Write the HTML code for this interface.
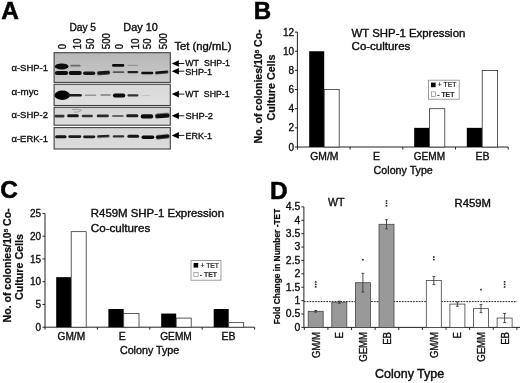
<!DOCTYPE html>
<html lang="en"><head><meta charset="utf-8"><title>Figure</title>
<style>html,body{margin:0;padding:0;background:#fff;}svg{display:block;}</style></head><body>
<svg width="520" height="383" viewBox="0 0 520 383" font-family='"Liberation Sans", Arial, sans-serif'>
<defs>
<filter id="b1" x="-20%" y="-50%" width="140%" height="200%"><feGaussianBlur stdDeviation="0.7"/></filter>
<filter id="b2" x="-20%" y="-50%" width="140%" height="200%"><feGaussianBlur stdDeviation="0.5"/></filter>
<filter id="tb"><feGaussianBlur stdDeviation="0.35"/></filter>
<linearGradient id="g1" x1="0" y1="0" x2="0" y2="1"><stop offset="0" stop-color="#b8b8b8"/><stop offset="0.6" stop-color="#c2c2c2"/><stop offset="1" stop-color="#cccccc"/></linearGradient>
<linearGradient id="g2" x1="0" y1="0" x2="0" y2="1"><stop offset="0" stop-color="#d8d8d8"/><stop offset="1" stop-color="#e0e0e0"/></linearGradient>
<linearGradient id="g3" x1="0" y1="0" x2="0" y2="1"><stop offset="0" stop-color="#d4d4d4"/><stop offset="1" stop-color="#dedede"/></linearGradient>
<linearGradient id="g4" x1="0" y1="0" x2="0" y2="1"><stop offset="0" stop-color="#d6d6d6"/><stop offset="1" stop-color="#dcdcdc"/></linearGradient>
</defs>
<rect width="520" height="383" fill="#fff"/>
<g filter="url(#tb)">
<text transform="translate(1.2 18.8)" font-size="24.4" text-anchor="start" font-weight="bold" fill="#000" stroke="#000" stroke-width="0.54">A</text>
<text transform="translate(253.8 19)" font-size="24.1" text-anchor="start" font-weight="bold" fill="#000" stroke="#000" stroke-width="0.53">B</text>
<text transform="translate(0.3 198.1)" font-size="24.4" text-anchor="start" font-weight="bold" fill="#000" stroke="#000" stroke-width="0.54">C</text>
<text transform="translate(269.9 198.8)" font-size="24.4" text-anchor="start" font-weight="bold" fill="#000" stroke="#000" stroke-width="0.54">D</text>
<text transform="translate(69.5 30.5)" font-size="10.8" text-anchor="start" font-weight="normal" fill="#0a0a0a" textLength="26.5" lengthAdjust="spacingAndGlyphs" stroke="#0a0a0a" stroke-width="0.35">Day 5</text>
<text transform="translate(123.3 30.5)" font-size="10.8" text-anchor="start" font-weight="normal" fill="#0a0a0a" textLength="34.6" lengthAdjust="spacingAndGlyphs" stroke="#0a0a0a" stroke-width="0.35">Day 10</text>
<text transform="translate(66.4 49.2) scale(1.15 1) rotate(-90)" font-size="9.6" text-anchor="start" font-weight="normal" fill="#0a0a0a" stroke="#0a0a0a" stroke-width="0.31">0</text>
<text transform="translate(81.3 49.2) scale(1.15 1) rotate(-90)" font-size="9.6" text-anchor="start" font-weight="normal" fill="#0a0a0a" stroke="#0a0a0a" stroke-width="0.31">10</text>
<text transform="translate(94.2 49.2) scale(1.15 1) rotate(-90)" font-size="9.6" text-anchor="start" font-weight="normal" fill="#0a0a0a" stroke="#0a0a0a" stroke-width="0.31">50</text>
<text transform="translate(109.8 49.2) scale(1.15 1) rotate(-90)" font-size="9.6" text-anchor="start" font-weight="normal" fill="#0a0a0a" stroke="#0a0a0a" stroke-width="0.31">500</text>
<text transform="translate(122.6 49.2) scale(1.15 1) rotate(-90)" font-size="9.6" text-anchor="start" font-weight="normal" fill="#0a0a0a" stroke="#0a0a0a" stroke-width="0.31">0</text>
<text transform="translate(138.9 49.2) scale(1.15 1) rotate(-90)" font-size="9.6" text-anchor="start" font-weight="normal" fill="#0a0a0a" stroke="#0a0a0a" stroke-width="0.31">10</text>
<text transform="translate(151.0 49.2) scale(1.15 1) rotate(-90)" font-size="9.6" text-anchor="start" font-weight="normal" fill="#0a0a0a" stroke="#0a0a0a" stroke-width="0.31">50</text>
<text transform="translate(166.7 49.2) scale(1.15 1) rotate(-90)" font-size="9.6" text-anchor="start" font-weight="normal" fill="#0a0a0a" stroke="#0a0a0a" stroke-width="0.31">500</text>
<text transform="translate(174.4 50)" font-size="11" text-anchor="start" font-weight="normal" fill="#0a0a0a" textLength="57" lengthAdjust="spacingAndGlyphs" stroke="#0a0a0a" stroke-width="0.35">Tet (ng/mL)</text>
<rect x="54.1" y="52.7" width="116.20000000000002" height="29.700000000000003" fill="url(#g1)"/>
<rect x="54.1" y="84.3" width="116.20000000000002" height="21.200000000000003" fill="url(#g2)"/>
<rect x="54.1" y="107.3" width="116.20000000000002" height="17.900000000000006" fill="url(#g3)"/>
<rect x="54.1" y="127.6" width="116.20000000000002" height="21.400000000000006" fill="url(#g4)"/>
<ellipse cx="61.7" cy="66.4" rx="6.8" ry="3.0" fill="#0a0a0a" opacity="1.0" filter="url(#b1)"/>
<rect x="70.2" y="64.80" width="10.4" height="1.8" rx="0.90" fill="#555" opacity="0.8" filter="url(#b2)"/>
<rect x="112.0" y="64.10" width="12.3" height="2.6" rx="1.30" fill="#111" opacity="1" filter="url(#b2)"/>
<rect x="127.4" y="64.70" width="10.4" height="1.4" rx="0.70" fill="#777" opacity="0.6" filter="url(#b2)"/>
<rect x="54.9" y="70.90" width="13.2" height="4.2" rx="2.10" fill="#111" opacity="1.0" filter="url(#b1)"/>
<rect x="68.7" y="71.00" width="13.1" height="4.0" rx="2.00" fill="#111" opacity="1.0" filter="url(#b1)"/>
<rect x="83.1" y="71.40" width="12.2" height="3.6" rx="1.80" fill="#151515" opacity="1.0" filter="url(#b1)"/>
<rect x="97.0" y="71.10" width="13.1" height="3.6" rx="1.80" fill="#151515" opacity="1.0" filter="url(#b1)" transform="rotate(-4 103.5 72.9)"/>
<rect x="112.7" y="71.30" width="11.6" height="1.8" rx="0.90" fill="#444" opacity="0.85" filter="url(#b2)"/>
<rect x="127.4" y="71.00" width="10.9" height="2.2" rx="1.10" fill="#222" opacity="1" filter="url(#b2)"/>
<rect x="141.2" y="71.80" width="12.1" height="2.4" rx="1.20" fill="#111" opacity="1" filter="url(#b2)"/>
<rect x="155.1" y="71.10" width="13.2" height="2.6" rx="1.30" fill="#111" opacity="1" filter="url(#b2)" transform="rotate(-5 161.7 72.4)"/>
<ellipse cx="62.3" cy="95.2" rx="7.8" ry="4.7" fill="#050505" opacity="1.0" filter="url(#b1)"/>
<rect x="67.7" y="94.00" width="14.1" height="2.6" rx="1.30" fill="#1a1a1a" opacity="1.0" filter="url(#b1)"/>
<rect x="84.7" y="94.50" width="11.6" height="1.4" rx="0.70" fill="#666" opacity="0.6" filter="url(#b2)"/>
<rect x="100.3" y="94.25" width="10.5" height="1.5" rx="0.75" fill="#555" opacity="0.7" filter="url(#b2)"/>
<rect x="112.9" y="93.60" width="12.4" height="3.8" rx="1.90" fill="#0a0a0a" opacity="1.0" filter="url(#b1)"/>
<rect x="127.4" y="94.20" width="11.1" height="2.2" rx="1.10" fill="#333" opacity="1" filter="url(#b2)"/>
<rect x="141.7" y="94.90" width="8.6" height="1.2" rx="0.60" fill="#999" opacity="0.35" filter="url(#b2)"/>
<rect x="54.5" y="114.80" width="10.1" height="2.6" rx="1.30" fill="#333" opacity="1" filter="url(#b2)"/>
<rect x="67.1" y="114.30" width="11.7" height="3.0" rx="1.50" fill="#181818" opacity="1" filter="url(#b2)"/>
<rect x="81.7" y="114.70" width="11.2" height="2.6" rx="1.30" fill="#333" opacity="1" filter="url(#b2)"/>
<rect x="96.7" y="114.50" width="12.2" height="2.8" rx="1.40" fill="#2a2a2a" opacity="1" filter="url(#b2)"/>
<rect x="112.0" y="115.00" width="11.7" height="2.0" rx="1.00" fill="#555" opacity="0.85" filter="url(#b2)"/>
<rect x="126.2" y="114.30" width="12.1" height="3.0" rx="1.50" fill="#1a1a1a" opacity="1" filter="url(#b2)"/>
<rect x="140.7" y="114.30" width="12.6" height="4.2" rx="2.10" fill="#0d0d0d" opacity="1.0" filter="url(#b1)"/>
<rect x="155.1" y="113.50" width="14.5" height="4.6" rx="2.20" fill="#0d0d0d" opacity="1.0" filter="url(#b1)" transform="rotate(-4 162.4 115.8)"/>
<path d="M72 109.6 Q77 108.6 81.5 110.2 Q79 112.6 74 112.2" fill="none" stroke="#777" stroke-width="0.9" opacity="0.7" filter="url(#b2)"/>
<rect x="55.1" y="135.30" width="11.4" height="3.0" rx="1.50" fill="#151515" opacity="1" filter="url(#b2)"/>
<rect x="68.3" y="135.20" width="13.0" height="2.8" rx="1.40" fill="#1a1a1a" opacity="1" filter="url(#b2)"/>
<rect x="83.1" y="135.40" width="12.2" height="2.8" rx="1.40" fill="#1a1a1a" opacity="1" filter="url(#b2)"/>
<rect x="97.2" y="135.10" width="12.3" height="2.4" rx="1.20" fill="#222" opacity="1" filter="url(#b2)" transform="rotate(-3 103.3 136.3)"/>
<rect x="112.7" y="135.30" width="11.6" height="2.2" rx="1.10" fill="#333" opacity="1" filter="url(#b2)"/>
<rect x="127.4" y="134.70" width="11.7" height="3.0" rx="1.50" fill="#151515" opacity="1" filter="url(#b2)"/>
<rect x="141.5" y="135.50" width="12.8" height="3.6" rx="1.80" fill="#0d0d0d" opacity="1.0" filter="url(#b1)"/>
<rect x="155.7" y="134.80" width="13.9" height="4.0" rx="2.00" fill="#0d0d0d" opacity="1.0" filter="url(#b1)" transform="rotate(-6 162.7 136.8)"/>
<rect x="54.1" y="52.7" width="116.20000000000002" height="29.700000000000003" fill="none" stroke="#404040" stroke-width="1.1"/>
<rect x="54.1" y="84.3" width="116.20000000000002" height="21.200000000000003" fill="none" stroke="#404040" stroke-width="1.1"/>
<rect x="54.1" y="107.3" width="116.20000000000002" height="17.900000000000006" fill="none" stroke="#404040" stroke-width="1.1"/>
<rect x="54.1" y="127.6" width="116.20000000000002" height="21.400000000000006" fill="none" stroke="#404040" stroke-width="1.1"/>
<text transform="translate(11.5 71.4)" font-size="9.6" text-anchor="start" font-weight="normal" fill="#0a0a0a" textLength="36.5" lengthAdjust="spacingAndGlyphs" stroke="#0a0a0a" stroke-width="0.31">α-SHP-1</text>
<text transform="translate(11.5 95.2)" font-size="9.6" text-anchor="start" font-weight="normal" fill="#0a0a0a" textLength="27" lengthAdjust="spacingAndGlyphs" stroke="#0a0a0a" stroke-width="0.31">α-myc</text>
<text transform="translate(11.5 118.0)" font-size="9.6" text-anchor="start" font-weight="normal" fill="#0a0a0a" textLength="36.5" lengthAdjust="spacingAndGlyphs" stroke="#0a0a0a" stroke-width="0.31">α-SHP-2</text>
<text transform="translate(11.5 141.8)" font-size="9.6" text-anchor="start" font-weight="normal" fill="#0a0a0a" textLength="36.5" lengthAdjust="spacingAndGlyphs" stroke="#0a0a0a" stroke-width="0.31">α-ERK-1</text>
<path d="M171.7 63.5 L178.9 60.2 L178.9 66.8 Z" fill="#000"/><path d="M178 63.5 H184.3" stroke="#000" stroke-width="0.9"/>
<text transform="translate(185.3 66.2)" font-size="9.6" text-anchor="start" font-weight="normal" fill="#0a0a0a" textLength="44.7" lengthAdjust="spacingAndGlyphs" word-spacing="3" stroke="#0a0a0a" stroke-width="0.31">WT SHP-1</text>
<path d="M171.7 71.2 L178.9 67.9 L178.9 74.5 Z" fill="#000"/><path d="M178 71.2 H184.3" stroke="#000" stroke-width="0.9"/>
<text transform="translate(185.3 75.4)" font-size="9.6" text-anchor="start" font-weight="normal" fill="#0a0a0a" textLength="26.7" lengthAdjust="spacingAndGlyphs" stroke="#0a0a0a" stroke-width="0.31">SHP-1</text>
<path d="M171.7 94.1 L178.9 90.8 L178.9 97.39999999999999 Z" fill="#000"/><path d="M178 94.1 H184.3" stroke="#000" stroke-width="0.9"/>
<text transform="translate(185.3 97.3)" font-size="9.6" text-anchor="start" font-weight="normal" fill="#0a0a0a" textLength="44.3" lengthAdjust="spacingAndGlyphs" word-spacing="3" stroke="#0a0a0a" stroke-width="0.31">WT SHP-1</text>
<path d="M171.7 115.8 L178.9 112.5 L178.9 119.1 Z" fill="#000"/><path d="M178 115.8 H184.3" stroke="#000" stroke-width="0.9"/>
<text transform="translate(185.5 119.1)" font-size="9.6" text-anchor="start" font-weight="normal" fill="#0a0a0a" textLength="27.5" lengthAdjust="spacingAndGlyphs" stroke="#0a0a0a" stroke-width="0.31">SHP-2</text>
<path d="M171.7 135.4 L178.9 132.1 L178.9 138.70000000000002 Z" fill="#000"/><path d="M178 135.4 H184.3" stroke="#000" stroke-width="0.9"/>
<text transform="translate(185.5 138.7)" font-size="9.6" text-anchor="start" font-weight="normal" fill="#0a0a0a" textLength="26.5" lengthAdjust="spacingAndGlyphs" stroke="#0a0a0a" stroke-width="0.31">ERK-1</text>
<path d="M297.4 32.10000000000001 V147.0 H508.2" fill="none" stroke="#222" stroke-width="1"/>
<path d="M294.9 147.00 H297.4" stroke="#222" stroke-width="1"/>
<text transform="translate(294.09999999999997 150.6)" font-size="10" text-anchor="end" font-weight="normal" fill="#0a0a0a" stroke="#0a0a0a" stroke-width="0.32">0</text>
<path d="M294.9 127.85 H297.4" stroke="#222" stroke-width="1"/>
<text transform="translate(294.09999999999997 131.45)" font-size="10" text-anchor="end" font-weight="normal" fill="#0a0a0a" stroke="#0a0a0a" stroke-width="0.32">2</text>
<path d="M294.9 108.70 H297.4" stroke="#222" stroke-width="1"/>
<text transform="translate(294.09999999999997 112.3)" font-size="10" text-anchor="end" font-weight="normal" fill="#0a0a0a" stroke="#0a0a0a" stroke-width="0.32">4</text>
<path d="M294.9 89.55 H297.4" stroke="#222" stroke-width="1"/>
<text transform="translate(294.09999999999997 93.15)" font-size="10" text-anchor="end" font-weight="normal" fill="#0a0a0a" stroke="#0a0a0a" stroke-width="0.32">6</text>
<path d="M294.9 70.40 H297.4" stroke="#222" stroke-width="1"/>
<text transform="translate(294.09999999999997 74.0)" font-size="10" text-anchor="end" font-weight="normal" fill="#0a0a0a" stroke="#0a0a0a" stroke-width="0.32">8</text>
<path d="M294.9 51.25 H297.4" stroke="#222" stroke-width="1"/>
<text transform="translate(294.09999999999997 54.85)" font-size="10" text-anchor="end" font-weight="normal" fill="#0a0a0a" stroke="#0a0a0a" stroke-width="0.32">10</text>
<path d="M294.9 32.10 H297.4" stroke="#222" stroke-width="1"/>
<text transform="translate(294.09999999999997 35.70000000000001)" font-size="10" text-anchor="end" font-weight="normal" fill="#0a0a0a" stroke="#0a0a0a" stroke-width="0.32">12</text>
<path d="M297.40 147.0 V149.5" stroke="#222" stroke-width="1"/>
<path d="M350.10 147.0 V149.5" stroke="#222" stroke-width="1"/>
<path d="M402.80 147.0 V149.5" stroke="#222" stroke-width="1"/>
<path d="M455.50 147.0 V149.5" stroke="#222" stroke-width="1"/>
<path d="M508.20 147.0 V149.5" stroke="#222" stroke-width="1"/>
<rect x="309.2" y="51.25" width="15" height="95.75" fill="#000"/>
<rect x="324.2" y="89.55" width="15" height="57.45" fill="#fff" stroke="#333" stroke-width="0.8"/>
<rect x="414.2" y="127.85" width="15.3" height="19.15" fill="#000"/>
<rect x="429.5" y="108.70" width="15.3" height="38.30" fill="#fff" stroke="#333" stroke-width="0.8"/>
<rect x="466.8" y="127.85" width="15.4" height="19.15" fill="#000"/>
<rect x="482.2" y="70.40" width="15.4" height="76.60" fill="#fff" stroke="#333" stroke-width="0.8"/>
<text transform="translate(324.4 160.4)" font-size="10.5" text-anchor="middle" font-weight="normal" fill="#0a0a0a" textLength="28.2" lengthAdjust="spacingAndGlyphs" stroke="#0a0a0a" stroke-width="0.34">GM/M</text>
<text transform="translate(376.4 160.4)" font-size="10.5" text-anchor="middle" font-weight="normal" fill="#0a0a0a" stroke="#0a0a0a" stroke-width="0.34">E</text>
<text transform="translate(429.4 160.4)" font-size="10.5" text-anchor="middle" font-weight="normal" fill="#0a0a0a" textLength="31.3" lengthAdjust="spacingAndGlyphs" stroke="#0a0a0a" stroke-width="0.34">GEMM</text>
<text transform="translate(482.4 160.4)" font-size="10.5" text-anchor="middle" font-weight="normal" fill="#0a0a0a" stroke="#0a0a0a" stroke-width="0.34">EB</text>
<text transform="translate(373.6 174)" font-size="10.5" text-anchor="start" font-weight="normal" fill="#0a0a0a" textLength="59.2" lengthAdjust="spacingAndGlyphs" stroke="#0a0a0a" stroke-width="0.34">Colony Type</text>
<text transform="translate(351.6 36.5)" font-size="11.3" text-anchor="start" font-weight="normal" fill="#0a0a0a" textLength="113.7" lengthAdjust="spacingAndGlyphs" stroke="#0a0a0a" stroke-width="0.36">WT SHP-1 Expression</text>
<text transform="translate(351.6 49.6)" font-size="11.3" text-anchor="start" font-weight="normal" fill="#0a0a0a" textLength="58.7" lengthAdjust="spacingAndGlyphs" stroke="#0a0a0a" stroke-width="0.36">Co-cultures</text>
<text transform="translate(262.4 143.4) rotate(-90)" font-size="10.2" text-anchor="start" font-weight="bold" fill="#0a0a0a" textLength="114" lengthAdjust="spacingAndGlyphs" stroke="#0a0a0a" stroke-width="0.22">No. of colonies/10<tspan font-size="6" dy="-3.5">5</tspan><tspan dy="3.5"> Co-</tspan></text>
<text transform="translate(275.3 120.5) rotate(-90)" font-size="10.2" text-anchor="start" font-weight="bold" fill="#0a0a0a" textLength="66" lengthAdjust="spacingAndGlyphs" stroke="#0a0a0a" stroke-width="0.22">Culture Cells</text>
<rect x="428.4" y="80.2" width="30.8" height="19" fill="#fff" stroke="#888" stroke-width="0.8"/>
<rect x="431.0" y="82.60000000000001" width="4.6" height="4.6" fill="#000"/>
<rect x="431.29999999999995" y="91.9" width="4.2" height="4.4" fill="#fff" stroke="#777" stroke-width="0.6"/>
<text transform="translate(437.79999999999995 87.4)" font-size="6.6" text-anchor="start" font-weight="normal" fill="#222" textLength="18.6" lengthAdjust="spacingAndGlyphs" stroke="#222" stroke-width="0.21">+ TET</text>
<text transform="translate(437.2 96.9)" font-size="6.6" text-anchor="start" font-weight="bold" fill="#333" textLength="17.2" lengthAdjust="spacingAndGlyphs" stroke="#333" stroke-width="0.15">- TET</text>
<path d="M45.0 213.45 V327.2 H254.3" fill="none" stroke="#222" stroke-width="1"/>
<path d="M42.5 327.20 H45.0" stroke="#222" stroke-width="1"/>
<text transform="translate(41.0 330.8)" font-size="10" text-anchor="end" font-weight="normal" fill="#0a0a0a" stroke="#0a0a0a" stroke-width="0.32">0</text>
<path d="M42.5 304.45 H45.0" stroke="#222" stroke-width="1"/>
<text transform="translate(41.0 308.05)" font-size="10" text-anchor="end" font-weight="normal" fill="#0a0a0a" stroke="#0a0a0a" stroke-width="0.32">5</text>
<path d="M42.5 281.70 H45.0" stroke="#222" stroke-width="1"/>
<text transform="translate(41.0 285.3)" font-size="10" text-anchor="end" font-weight="normal" fill="#0a0a0a" stroke="#0a0a0a" stroke-width="0.32">10</text>
<path d="M42.5 258.95 H45.0" stroke="#222" stroke-width="1"/>
<text transform="translate(41.0 262.55)" font-size="10" text-anchor="end" font-weight="normal" fill="#0a0a0a" stroke="#0a0a0a" stroke-width="0.32">15</text>
<path d="M42.5 236.20 H45.0" stroke="#222" stroke-width="1"/>
<text transform="translate(41.0 239.79999999999998)" font-size="10" text-anchor="end" font-weight="normal" fill="#0a0a0a" stroke="#0a0a0a" stroke-width="0.32">20</text>
<path d="M42.5 213.45 H45.0" stroke="#222" stroke-width="1"/>
<text transform="translate(41.0 217.04999999999998)" font-size="10" text-anchor="end" font-weight="normal" fill="#0a0a0a" stroke="#0a0a0a" stroke-width="0.32">25</text>
<path d="M45.00 327.2 V329.7" stroke="#222" stroke-width="1"/>
<path d="M97.40 327.2 V329.7" stroke="#222" stroke-width="1"/>
<path d="M149.80 327.2 V329.7" stroke="#222" stroke-width="1"/>
<path d="M202.20 327.2 V329.7" stroke="#222" stroke-width="1"/>
<path d="M254.60 327.2 V329.7" stroke="#222" stroke-width="1"/>
<rect x="56.2" y="277.15" width="15" height="50.05" fill="#000"/>
<rect x="71.2" y="231.65" width="15" height="95.55" fill="#fff" stroke="#333" stroke-width="0.8"/>
<rect x="108.4" y="309.00" width="15.3" height="18.20" fill="#000"/>
<rect x="123.7" y="313.55" width="15.3" height="13.65" fill="#fff" stroke="#333" stroke-width="0.8"/>
<rect x="161.2" y="313.55" width="15" height="13.65" fill="#000"/>
<rect x="176.2" y="318.10" width="15" height="9.10" fill="#fff" stroke="#333" stroke-width="0.8"/>
<rect x="213.7" y="309.00" width="15" height="18.20" fill="#000"/>
<rect x="228.7" y="322.65" width="15" height="4.55" fill="#fff" stroke="#333" stroke-width="0.8"/>
<text transform="translate(71.3 340.4)" font-size="10.5" text-anchor="middle" font-weight="normal" fill="#0a0a0a" textLength="27.6" lengthAdjust="spacingAndGlyphs" stroke="#0a0a0a" stroke-width="0.34">GM/M</text>
<text transform="translate(122.3 340.4)" font-size="10.5" text-anchor="middle" font-weight="normal" fill="#0a0a0a" stroke="#0a0a0a" stroke-width="0.34">E</text>
<text transform="translate(176 340.4)" font-size="10.5" text-anchor="middle" font-weight="normal" fill="#0a0a0a" textLength="31.6" lengthAdjust="spacingAndGlyphs" stroke="#0a0a0a" stroke-width="0.34">GEMM</text>
<text transform="translate(228.4 340.4)" font-size="10.5" text-anchor="middle" font-weight="normal" fill="#0a0a0a" stroke="#0a0a0a" stroke-width="0.34">EB</text>
<text transform="translate(119.9 353.9)" font-size="10.5" text-anchor="start" font-weight="normal" fill="#0a0a0a" textLength="59.4" lengthAdjust="spacingAndGlyphs" stroke="#0a0a0a" stroke-width="0.34">Colony Type</text>
<text transform="translate(90.8 216.9)" font-size="11.3" text-anchor="start" font-weight="normal" fill="#0a0a0a" textLength="133.2" lengthAdjust="spacingAndGlyphs" stroke="#0a0a0a" stroke-width="0.36">R459M SHP-1 Expression</text>
<text transform="translate(90.8 231.5)" font-size="11.3" text-anchor="start" font-weight="normal" fill="#0a0a0a" textLength="59.4" lengthAdjust="spacingAndGlyphs" stroke="#0a0a0a" stroke-width="0.36">Co-cultures</text>
<text transform="translate(11.3 322.4) rotate(-90)" font-size="10.2" text-anchor="start" font-weight="bold" fill="#0a0a0a" textLength="114" lengthAdjust="spacingAndGlyphs" stroke="#0a0a0a" stroke-width="0.22">No. of colonies/10<tspan font-size="6" dy="-3.5">5</tspan><tspan dy="3.5"> Co-</tspan></text>
<text transform="translate(23.2 300) rotate(-90)" font-size="10.2" text-anchor="start" font-weight="bold" fill="#0a0a0a" textLength="66" lengthAdjust="spacingAndGlyphs" stroke="#0a0a0a" stroke-width="0.22">Culture Cells</text>
<rect x="191" y="260.6" width="30" height="19.6" fill="#fff" stroke="#888" stroke-width="0.8"/>
<rect x="193.6" y="263.0" width="4.6" height="4.6" fill="#000"/>
<rect x="193.9" y="272.3" width="4.2" height="4.4" fill="#fff" stroke="#777" stroke-width="0.6"/>
<text transform="translate(200.4 267.8)" font-size="6.6" text-anchor="start" font-weight="normal" fill="#222" textLength="18.6" lengthAdjust="spacingAndGlyphs" stroke="#222" stroke-width="0.21">+ TET</text>
<text transform="translate(199.8 277.3)" font-size="6.6" text-anchor="start" font-weight="bold" fill="#333" textLength="17.2" lengthAdjust="spacingAndGlyphs" stroke="#333" stroke-width="0.15">- TET</text>
<path d="M303.9 206.89 V327.4 H520" fill="none" stroke="#222" stroke-width="1"/>
<path d="M301.4 327.40 H303.9" stroke="#222" stroke-width="1"/>
<text transform="translate(300.29999999999995 330.7) scale(1.04 1)" font-size="10" text-anchor="end" font-weight="normal" fill="#0a0a0a" stroke="#0a0a0a" stroke-width="0.32">0</text>
<path d="M301.4 314.01 H303.9" stroke="#222" stroke-width="1"/>
<text transform="translate(300.29999999999995 317.31) scale(1.04 1)" font-size="10" text-anchor="end" font-weight="normal" fill="#0a0a0a" stroke="#0a0a0a" stroke-width="0.32">0.5</text>
<path d="M301.4 300.62 H303.9" stroke="#222" stroke-width="1"/>
<text transform="translate(300.29999999999995 303.92) scale(1.04 1)" font-size="10" text-anchor="end" font-weight="normal" fill="#0a0a0a" stroke="#0a0a0a" stroke-width="0.32">1</text>
<path d="M301.4 287.23 H303.9" stroke="#222" stroke-width="1"/>
<text transform="translate(300.29999999999995 290.53) scale(1.04 1)" font-size="10" text-anchor="end" font-weight="normal" fill="#0a0a0a" stroke="#0a0a0a" stroke-width="0.32">1.5</text>
<path d="M301.4 273.84 H303.9" stroke="#222" stroke-width="1"/>
<text transform="translate(300.29999999999995 277.14) scale(1.04 1)" font-size="10" text-anchor="end" font-weight="normal" fill="#0a0a0a" stroke="#0a0a0a" stroke-width="0.32">2</text>
<path d="M301.4 260.45 H303.9" stroke="#222" stroke-width="1"/>
<text transform="translate(300.29999999999995 263.75) scale(1.04 1)" font-size="10" text-anchor="end" font-weight="normal" fill="#0a0a0a" stroke="#0a0a0a" stroke-width="0.32">2.5</text>
<path d="M301.4 247.06 H303.9" stroke="#222" stroke-width="1"/>
<text transform="translate(300.29999999999995 250.35999999999999) scale(1.04 1)" font-size="10" text-anchor="end" font-weight="normal" fill="#0a0a0a" stroke="#0a0a0a" stroke-width="0.32">3</text>
<path d="M301.4 233.67 H303.9" stroke="#222" stroke-width="1"/>
<text transform="translate(300.29999999999995 236.96999999999997) scale(1.04 1)" font-size="10" text-anchor="end" font-weight="normal" fill="#0a0a0a" stroke="#0a0a0a" stroke-width="0.32">3.5</text>
<path d="M301.4 220.28 H303.9" stroke="#222" stroke-width="1"/>
<text transform="translate(300.29999999999995 223.57999999999998) scale(1.04 1)" font-size="10" text-anchor="end" font-weight="normal" fill="#0a0a0a" stroke="#0a0a0a" stroke-width="0.32">4</text>
<path d="M301.4 206.89 H303.9" stroke="#222" stroke-width="1"/>
<text transform="translate(300.29999999999995 210.19) scale(1.04 1)" font-size="10" text-anchor="end" font-weight="normal" fill="#0a0a0a" stroke="#0a0a0a" stroke-width="0.32">4.5</text>
<path d="M304.30 327.4 V329.9" stroke="#222" stroke-width="1"/>
<path d="M327.92 327.4 V329.9" stroke="#222" stroke-width="1"/>
<path d="M351.54 327.4 V329.9" stroke="#222" stroke-width="1"/>
<path d="M375.16 327.4 V329.9" stroke="#222" stroke-width="1"/>
<path d="M398.78 327.4 V329.9" stroke="#222" stroke-width="1"/>
<path d="M422.40 327.4 V329.9" stroke="#222" stroke-width="1"/>
<path d="M446.02 327.4 V329.9" stroke="#222" stroke-width="1"/>
<path d="M469.64 327.4 V329.9" stroke="#222" stroke-width="1"/>
<path d="M493.26 327.4 V329.9" stroke="#222" stroke-width="1"/>
<path d="M516.88 327.4 V329.9" stroke="#222" stroke-width="1"/>
<path d="M303.9 301.6 H517" stroke="#222" stroke-width="1" stroke-dasharray="1.7 1.1"/>
<rect x="308.2" y="311.33" width="15.0" height="16.07" fill="#999" stroke="#484848" stroke-width="0.8"/>
<path d="M315.70 310.53 V312.14 M314.30 310.53 h2.8 M314.30 312.14 h2.8" stroke="#3a3a3a" stroke-width="0.9" fill="none"/>
<rect x="314.90" y="281.10" width="1.6" height="1.6" fill="#222"/>
<rect x="314.90" y="283.60" width="1.6" height="1.6" fill="#222"/>
<rect x="314.90" y="286.00" width="1.6" height="1.6" fill="#222"/>
<rect x="331.8" y="302.23" width="15.0" height="25.17" fill="#999" stroke="#484848" stroke-width="0.8"/>
<path d="M339.30 301.16 V303.30 M337.90 301.16 h2.8 M337.90 303.30 h2.8" stroke="#3a3a3a" stroke-width="0.9" fill="none"/>
<rect x="355.4" y="282.68" width="15.0" height="44.72" fill="#999" stroke="#484848" stroke-width="0.8"/>
<path d="M362.90 273.30 V292.05 M361.50 273.30 h2.8 M361.50 292.05 h2.8" stroke="#3a3a3a" stroke-width="0.9" fill="none"/>
<rect x="362.10" y="258.90" width="1.6" height="1.6" fill="#222"/>
<rect x="379.0" y="224.30" width="15.0" height="103.10" fill="#999" stroke="#484848" stroke-width="0.8"/>
<path d="M386.50 219.74 V228.85 M385.10 219.74 h2.8 M385.10 228.85 h2.8" stroke="#3a3a3a" stroke-width="0.9" fill="none"/>
<rect x="385.70" y="200.10" width="1.6" height="1.6" fill="#222"/>
<rect x="385.70" y="202.50" width="1.6" height="1.6" fill="#222"/>
<rect x="385.70" y="205.00" width="1.6" height="1.6" fill="#222"/>
<rect x="426.3" y="280.53" width="15.0" height="46.87" fill="#fff" stroke="#444" stroke-width="0.8"/>
<path d="M433.80 276.52 V284.55 M432.40 276.52 h2.8 M432.40 284.55 h2.8" stroke="#3a3a3a" stroke-width="0.9" fill="none"/>
<rect x="433.00" y="256.20" width="1.6" height="1.6" fill="#222"/>
<rect x="433.00" y="258.80" width="1.6" height="1.6" fill="#222"/>
<rect x="449.9" y="304.10" width="15.0" height="23.30" fill="#fff" stroke="#444" stroke-width="0.8"/>
<path d="M457.40 301.96 V306.24 M456.00 301.96 h2.8 M456.00 306.24 h2.8" stroke="#3a3a3a" stroke-width="0.9" fill="none"/>
<rect x="473.5" y="308.65" width="15.0" height="18.75" fill="#fff" stroke="#444" stroke-width="0.8"/>
<path d="M481.00 304.64 V312.67 M479.60 304.64 h2.8 M479.60 312.67 h2.8" stroke="#3a3a3a" stroke-width="0.9" fill="none"/>
<rect x="480.20" y="288.80" width="1.6" height="1.6" fill="#222"/>
<rect x="497.1" y="318.03" width="15.0" height="9.37" fill="#fff" stroke="#444" stroke-width="0.8"/>
<path d="M504.60 313.47 V322.58 M503.20 313.47 h2.8 M503.20 322.58 h2.8" stroke="#3a3a3a" stroke-width="0.9" fill="none"/>
<rect x="503.80" y="281.00" width="1.6" height="1.6" fill="#222"/>
<rect x="503.80" y="283.60" width="1.6" height="1.6" fill="#222"/>
<rect x="503.80" y="286.20" width="1.6" height="1.6" fill="#222"/>
<text transform="translate(327.9 205.8) scale(1.08 1)" font-size="10" text-anchor="start" font-weight="normal" fill="#0a0a0a" textLength="15.3" lengthAdjust="spacingAndGlyphs" stroke="#0a0a0a" stroke-width="0.32">WT</text>
<text transform="translate(454.5 206.5) scale(1.1 1)" font-size="10.3" text-anchor="start" font-weight="normal" fill="#0a0a0a" stroke="#0a0a0a" stroke-width="0.33">R459M</text>
<text transform="translate(319.8 332) scale(1.1 1) rotate(-90)" font-size="9.6" text-anchor="end" font-weight="normal" fill="#0a0a0a" stroke="#0a0a0a" stroke-width="0.31">GM/M</text>
<text transform="translate(343.0 332) scale(1.1 1) rotate(-90)" font-size="9.6" text-anchor="end" font-weight="normal" fill="#0a0a0a" stroke="#0a0a0a" stroke-width="0.31">E</text>
<text transform="translate(366.8 332) scale(1.1 1) rotate(-90)" font-size="9.6" text-anchor="end" font-weight="normal" fill="#0a0a0a" stroke="#0a0a0a" stroke-width="0.31">GEMM</text>
<text transform="translate(390.7 332) scale(1.1 1) rotate(-90)" font-size="9.6" text-anchor="end" font-weight="normal" fill="#0a0a0a" stroke="#0a0a0a" stroke-width="0.31">EB</text>
<text transform="translate(437.8 332) scale(1.1 1) rotate(-90)" font-size="9.6" text-anchor="end" font-weight="normal" fill="#0a0a0a" stroke="#0a0a0a" stroke-width="0.31">GM/M</text>
<text transform="translate(461.40000000000003 332) scale(1.1 1) rotate(-90)" font-size="9.6" text-anchor="end" font-weight="normal" fill="#0a0a0a" stroke="#0a0a0a" stroke-width="0.31">E</text>
<text transform="translate(485.0 332) scale(1.1 1) rotate(-90)" font-size="9.6" text-anchor="end" font-weight="normal" fill="#0a0a0a" stroke="#0a0a0a" stroke-width="0.31">GEMM</text>
<text transform="translate(508.6 332) scale(1.1 1) rotate(-90)" font-size="9.6" text-anchor="end" font-weight="normal" fill="#0a0a0a" stroke="#0a0a0a" stroke-width="0.31">EB</text>
<text transform="translate(375 377.5)" font-size="12" text-anchor="start" font-weight="normal" fill="#0a0a0a" textLength="69.2" lengthAdjust="spacingAndGlyphs" stroke="#0a0a0a" stroke-width="0.38">Colony Type</text>
<text transform="translate(280.3 324.3) scale(1.1 1) rotate(-90)" font-size="8.0" text-anchor="start" font-weight="bold" fill="#0a0a0a" textLength="115.6" lengthAdjust="spacingAndGlyphs" stroke="#0a0a0a" stroke-width="0.18">Fold Change in Number -TET</text>
</g>
</svg></body></html>
